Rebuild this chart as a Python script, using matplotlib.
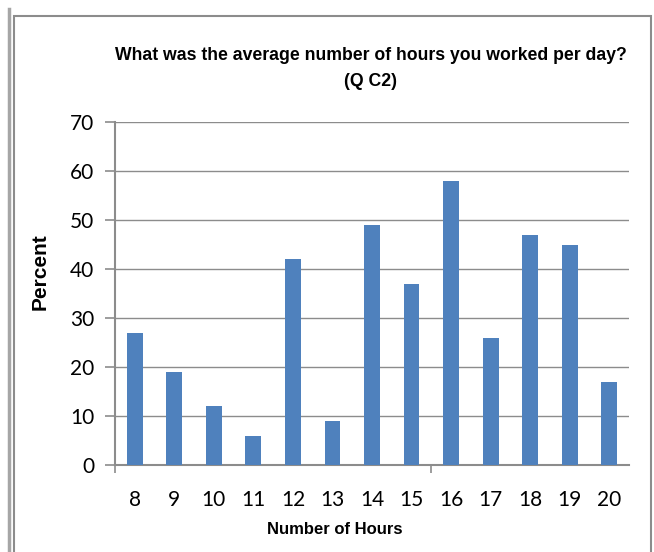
import matplotlib
matplotlib.use("Agg")
import matplotlib.pyplot as plt
from matplotlib.lines import Line2D
from matplotlib.patches import Rectangle

# hours per day and percent of answers
hours = ["8", "9", "10", "11", "12", "13", "14", "15", "16", "17", "18", "19", "20"]
percent = [27, 19, 12, 6, 42, 9, 49, 37, 58, 26, 47, 45, 17]
yticks = [0, 10, 20, 30, 40, 50, 60, 70]

narrow = ["Liberation Sans", "DejaVu Sans"]
grey = "#8c8c8c"

fig = plt.figure(figsize=(6.54, 5.52), dpi=100)

# frame lines round the chart
fig.add_artist(Line2D([9/654, 9/654], [0, 1 - 9/552], color="#a6a6a6", lw=2.5))
fig.add_artist(Rectangle((14/654, -0.05), (651-14)/654, 1.05 - 16/552, fill=False,
                         edgecolor="#8c8c8c", lw=1.5))

ax = fig.add_axes([115/654, 1 - 465/552, (629-115)/654, (465-122)/552])
x = range(len(hours))
ax.bar(x, percent, width=0.4, color="#4f81bd", zorder=3)

ax.set_xlim(-0.5, len(hours) - 0.5)
ax.set_ylim(0, 70)
ax.set_yticks(yticks)
ax.set_yticklabels([str(t) for t in yticks], fontsize=15, family="Lato")
ax.yaxis.grid(True, color=grey, lw=1, zorder=0)
ax.set_xticks([-0.5, 7.5])
ax.set_xticklabels([])
ax.set_xticks(list(x), minor=True)
ax.set_xticklabels(hours, minor=True, fontsize=15, family="Lato")
ax.tick_params(axis="x", which="minor", length=0, pad=18)
ax.tick_params(axis="x", which="major", length=6, color=grey, width=1.2)
ax.tick_params(axis="y", length=7, color=grey, width=1.2, pad=8)

for s in ["top", "right"]:
    ax.spines[s].set_visible(False)
for s in ["left", "bottom"]:
    ax.spines[s].set_color(grey)
    ax.spines[s].set_linewidth(1.5)

fig.text(371/654, 1 - 55/552, "What was the average number of hours you worked per day?",
         ha="center", va="center", fontsize=12.7, fontweight="bold", family=narrow)
fig.text(371/654, 1 - 81/552, "(Q C2)", ha="center", va="center",
         fontsize=12.7, fontweight="bold", family=narrow)
fig.text(40/654, 1 - 272/552, "Percent", rotation=90, ha="center", va="center",
         fontsize=15, fontweight="bold", family=narrow)
fig.text(335/654, 1 - 530/552, "Number of Hours", ha="center", va="center",
         fontsize=12, fontweight="bold", family=narrow)

fig.savefig("out.png", dpi=100)
